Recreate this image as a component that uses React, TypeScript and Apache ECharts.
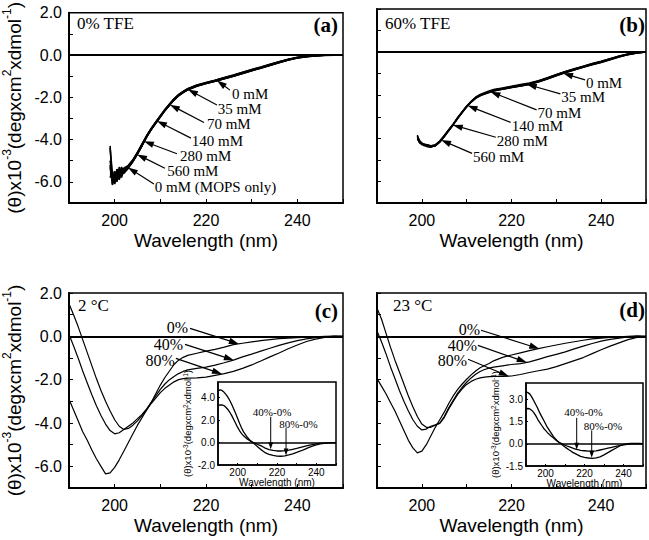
import React, { useEffect, useRef } from 'react';
import * as echarts from 'echarts';

const SANS = '"Liberation Sans", Arial, sans-serif';
const SERIF = '"Liberation Serif", "Times New Roman", serif';

// ---------- Panel (a): 0% TFE ----------
const WL_A = [199, 199.5, 200, 200.5, 201, 201.5, 202, 203, 204, 205, 206, 207, 208, 209, 210, 211, 212, 213, 214, 215, 216, 218, 220, 222, 224, 226, 228, 230, 232, 234, 236, 238, 240, 242, 244, 246, 248, 250];
const A_0MM = [-4.4, -5.6, -6.0, -5.5, -5.7, -5.3, -5.5, -5.3, -5.02, -4.66, -4.27, -3.86, -3.52, -3.21, -2.9, -2.61, -2.36, -2.1, -1.9, -1.76, -1.63, -1.45, -1.33, -1.22, -1.1, -0.98, -0.85, -0.72, -0.6, -0.47, -0.34, -0.22, -0.13, -0.07, -0.03, -0.01, 0, 0];
const A_35MM = [-5.0, -5.8, -5.6, -6.0, -5.4, -5.7, -5.4, -5.25, -4.97, -4.62, -4.22, -3.83, -3.49, -3.18, -2.88, -2.59, -2.33, -2.08, -1.88, -1.73, -1.6, -1.43, -1.31, -1.2, -1.08, -0.96, -0.83, -0.7, -0.58, -0.45, -0.32, -0.21, -0.12, -0.06, -0.02, 0, 0, 0];
const A_70MM = [-5.3, -6.1, -5.8, -5.6, -5.9, -5.5, -5.6, -5.35, -5.04, -4.68, -4.28, -3.88, -3.53, -3.23, -2.93, -2.63, -2.38, -2.13, -1.93, -1.78, -1.65, -1.48, -1.35, -1.24, -1.12, -1.0, -0.87, -0.74, -0.62, -0.49, -0.36, -0.24, -0.14, -0.08, -0.04, -0.02, -0.01, 0];
const A_140MM = [-5.6, -5.7, -6.1, -5.8, -5.5, -5.8, -5.45, -5.28, -4.99, -4.63, -4.24, -3.84, -3.5, -3.19, -2.89, -2.6, -2.34, -2.09, -1.89, -1.74, -1.61, -1.44, -1.32, -1.21, -1.09, -0.97, -0.84, -0.71, -0.59, -0.46, -0.33, -0.21, -0.12, -0.06, -0.02, 0, 0.01, 0];
const A_280MM = [-5.2, -5.9, -5.5, -5.7, -5.8, -5.4, -5.5, -5.32, -5.01, -4.66, -4.26, -3.86, -3.51, -3.2, -2.91, -2.62, -2.36, -2.11, -1.91, -1.76, -1.63, -1.46, -1.34, -1.23, -1.11, -0.99, -0.86, -0.73, -0.61, -0.48, -0.35, -0.23, -0.14, -0.08, -0.03, -0.01, 0, 0];
const A_560MM = [-5.8, -5.5, -5.9, -5.4, -5.6, -5.5, -5.35, -5.22, -4.95, -4.6, -4.2, -3.82, -3.47, -3.17, -2.87, -2.58, -2.32, -2.07, -1.87, -1.72, -1.59, -1.42, -1.3, -1.19, -1.07, -0.95, -0.82, -0.69, -0.57, -0.44, -0.32, -0.2, -0.11, -0.06, -0.02, 0, 0, 0];
const A_MOPS = [-4.3, -6.15, -5.7, -5.9, -5.3, -5.6, -5.4, -5.3, -5.03, -4.67, -4.28, -3.87, -3.52, -3.22, -2.92, -2.62, -2.37, -2.12, -1.92, -1.77, -1.64, -1.47, -1.35, -1.24, -1.12, -1.0, -0.87, -0.74, -0.61, -0.48, -0.35, -0.23, -0.13, -0.07, -0.03, -0.01, 0, 0];

// ---------- Panel (b): 60% TFE ----------
const WL_B = [199, 199.5, 200, 200.5, 201, 202, 203, 204, 205, 206, 207, 208, 209, 210, 211, 212, 213, 214, 215, 216, 218, 220, 222, 224, 226, 228, 230, 232, 234, 236, 238, 240, 242, 244, 246, 248, 250];
const B_0MM = [-3.9, -4.1, -4.22, -4.3, -4.28, -4.35, -4.3, -4.13, -3.88, -3.6, -3.33, -3.03, -2.76, -2.5, -2.28, -2.1, -1.98, -1.9, -1.83, -1.76, -1.68, -1.6, -1.53, -1.45, -1.34, -1.2, -1.05, -0.91, -0.78, -0.66, -0.54, -0.43, -0.31, -0.19, -0.09, -0.02, 0];
const B_35MM = [-4.0, -4.2, -4.28, -4.32, -4.35, -4.4, -4.35, -4.17, -3.92, -3.64, -3.37, -3.07, -2.8, -2.54, -2.32, -2.14, -2.02, -1.94, -1.87, -1.8, -1.72, -1.64, -1.57, -1.49, -1.38, -1.24, -1.09, -0.95, -0.82, -0.7, -0.58, -0.47, -0.35, -0.22, -0.11, -0.04, 0];
const B_70MM = [-3.85, -4.15, -4.3, -4.25, -4.38, -4.42, -4.3, -4.12, -3.87, -3.6, -3.34, -3.04, -2.77, -2.51, -2.29, -2.09, -1.96, -1.88, -1.8, -1.73, -1.66, -1.58, -1.5, -1.43, -1.32, -1.18, -1.04, -0.9, -0.77, -0.65, -0.53, -0.42, -0.3, -0.18, -0.08, -0.02, 0];
const B_140MM = [-4.05, -4.18, -4.2, -4.35, -4.32, -4.36, -4.36, -4.18, -3.93, -3.65, -3.38, -3.08, -2.8, -2.55, -2.33, -2.15, -2.03, -1.95, -1.88, -1.81, -1.73, -1.65, -1.58, -1.5, -1.39, -1.25, -1.1, -0.96, -0.83, -0.71, -0.59, -0.48, -0.36, -0.23, -0.12, -0.04, 0];
const B_280MM = [-3.95, -4.12, -4.27, -4.28, -4.3, -4.34, -4.32, -4.15, -3.9, -3.62, -3.35, -3.05, -2.78, -2.52, -2.3, -2.11, -1.99, -1.91, -1.84, -1.77, -1.69, -1.61, -1.54, -1.46, -1.35, -1.21, -1.06, -0.92, -0.79, -0.67, -0.55, -0.44, -0.32, -0.2, -0.1, -0.03, 0];
const B_560MM = [-3.9, -4.22, -4.24, -4.33, -4.29, -4.39, -4.34, -4.16, -3.91, -3.63, -3.36, -3.06, -2.79, -2.53, -2.31, -2.13, -2.01, -1.93, -1.86, -1.79, -1.71, -1.63, -1.56, -1.48, -1.37, -1.23, -1.08, -0.94, -0.81, -0.69, -0.57, -0.46, -0.34, -0.21, -0.11, -0.03, 0];

// ---------- Panels (c) 2 °C and (d) 23 °C ----------
const WL_CD = [190, 191, 192, 193, 194, 195, 196, 197, 198, 199, 200, 201, 202, 203, 204, 205, 206, 207, 208, 209, 210, 211, 212, 213, 214, 215, 216, 218, 220, 222, 224, 226, 228, 230, 232, 234, 236, 238, 240, 242, 244, 246, 248, 250];
const C_0 = [-2.9, -3.4, -3.9, -4.4, -4.8, -5.25, -5.65, -6.0, -6.35, -6.3, -6.05, -5.7, -5.3, -4.9, -4.5, -4.1, -3.75, -3.4, -3.05, -2.65, -2.25, -1.9, -1.6, -1.3, -1.1, -0.97, -0.88, -0.78, -0.68, -0.6, -0.5, -0.38, -0.32, -0.26, -0.2, -0.15, -0.11, -0.08, -0.06, -0.04, -0.02, 0, 0.01, 0];
const C_40 = [0.1, -0.45, -1.0, -1.6, -2.15, -2.7, -3.2, -3.65, -4.05, -4.35, -4.5, -4.45, -4.3, -4.15, -4.0, -3.8, -3.6, -3.35, -3.05, -2.75, -2.45, -2.2, -2.0, -1.85, -1.72, -1.62, -1.55, -1.48, -1.42, -1.33, -1.22, -1.1, -0.95, -0.82, -0.68, -0.55, -0.42, -0.3, -0.2, -0.12, -0.06, -0.02, 0, 0];
const C_80 = [1.5, 1.0, 0.45, -0.15, -0.75, -1.35, -1.95, -2.5, -3.0, -3.45, -3.85, -4.15, -4.3, -4.25, -4.1, -3.9, -3.65, -3.4, -3.1, -2.85, -2.6, -2.4, -2.25, -2.1, -2.0, -1.95, -1.93, -1.92, -1.88, -1.8, -1.72, -1.62, -1.48, -1.32, -1.14, -0.95, -0.77, -0.57, -0.4, -0.24, -0.13, -0.05, 0, 0];
const D_0 = [-1.95, -2.3, -2.65, -3.05, -3.45, -3.9, -4.35, -4.8, -5.15, -5.38, -5.3, -5.0, -4.6, -4.2, -3.85, -3.5, -3.1, -2.75, -2.45, -2.2, -1.98, -1.78, -1.6, -1.45, -1.35, -1.25, -1.13, -0.97, -0.86, -0.76, -0.66, -0.57, -0.48, -0.4, -0.32, -0.25, -0.18, -0.12, -0.08, -0.05, -0.02, 0, 0.02, 0];
const D_40 = [0.25, -0.25, -0.8, -1.4, -1.95, -2.5, -3.0, -3.45, -3.85, -4.15, -4.32, -4.28, -4.15, -4.08, -4.0, -3.7, -3.3, -2.95, -2.62, -2.35, -2.12, -1.92, -1.75, -1.62, -1.53, -1.47, -1.42, -1.36, -1.3, -1.26, -1.18, -1.06, -0.94, -0.83, -0.72, -0.58, -0.45, -0.33, -0.22, -0.14, -0.08, -0.03, 0, 0];
const D_80 = [1.3, 0.8, 0.15, -0.5, -1.1, -1.65, -2.2, -2.75, -3.25, -3.7, -4.05, -4.2, -4.2, -4.1, -4.02, -3.75, -3.35, -3.0, -2.68, -2.42, -2.22, -2.08, -1.98, -1.92, -1.88, -1.86, -1.85, -1.85, -1.83, -1.76, -1.67, -1.59, -1.51, -1.4, -1.26, -1.12, -0.98, -0.8, -0.62, -0.45, -0.3, -0.15, -0.05, 0];

// ---------- Insets: difference spectra ----------
const CI_80_0 = [4.6, 4.7, 4.65, 4.5, 4.3, 4.05, 3.75, 3.4, 3.0, 2.6, 2.15, 1.7, 1.3, 0.95, 0.7, 0.45, 0.25, 0.1, -0.05, -0.2, -0.35, -0.5, -0.65, -0.78, -0.9, -0.98, -1.05, -1.15, -1.2, -1.22, -1.18, -1.1, -1.0, -0.88, -0.75, -0.6, -0.45, -0.32, -0.2, -0.12, -0.06, -0.03, 0, 0];
const CI_40_0 = [3.3, 3.35, 3.35, 3.3, 3.15, 2.95, 2.7, 2.4, 2.05, 1.7, 1.35, 1.05, 0.8, 0.6, 0.45, 0.3, 0.18, 0.08, 0, -0.08, -0.15, -0.22, -0.3, -0.4, -0.5, -0.56, -0.62, -0.7, -0.75, -0.75, -0.72, -0.68, -0.6, -0.52, -0.42, -0.33, -0.25, -0.18, -0.12, -0.08, -0.05, -0.02, 0, 0];
const DI_80_0 = [3.5, 3.45, 3.35, 3.15, 2.9, 2.65, 2.4, 2.1, 1.85, 1.6, 1.35, 1.1, 0.9, 0.7, 0.5, 0.35, 0.2, 0.08, -0.02, -0.12, -0.22, -0.31, -0.4, -0.49, -0.58, -0.65, -0.72, -0.85, -0.92, -0.96, -0.98, -0.95, -0.88, -0.75, -0.6, -0.45, -0.3, -0.15, -0.05, 0, 0.02, 0, 0.02, 0];
const DI_40_0 = [2.35, 2.38, 2.35, 2.25, 2.1, 1.9, 1.65, 1.45, 1.25, 1.05, 0.9, 0.75, 0.62, 0.5, 0.4, 0.28, 0.18, 0.1, 0.03, -0.04, -0.1, -0.15, -0.2, -0.25, -0.3, -0.34, -0.38, -0.44, -0.47, -0.5, -0.5, -0.48, -0.42, -0.36, -0.3, -0.24, -0.18, -0.12, -0.08, -0.04, 0, 0.02, 0, 0];

// ---------- Annotations (data coordinates): text, textX, textY, tailX, tailY, tipX, tipY ----------
const ANN_A: [string, number, number, number, number, number, number][] = [
  ['0 mM', 225.7, -1.85, 225.25, -1.66, 222.4, -1.2],
  ['35 mM', 222.6, -2.54, 222.4, -2.36, 216.06, -1.63],
  ['70 mM', 220.2, -3.28, 219.56, -3.19, 212.1, -2.35],
  ['140 mM', 216.9, -4.06, 216.7, -3.93, 209.27, -3.12],
  ['280 mM', 214.3, -4.76, 213.65, -4.67, 206.4, -4.08],
  ['560 mM', 211.5, -5.5, 211.0, -5.36, 204.9, -4.7],
  ['0 mM (MOPS only)', 208.8, -6.24, 208.6, -6.1, 202.9, -5.32],
];
const ANN_B: [string, number, number, number, number, number, number][] = [
  ['0 mM', 236.6, -1.43, 236.4, -1.29, 231.5, -0.98],
  ['35 mM', 231.1, -2.08, 230.9, -1.94, 223.4, -1.49],
  ['70 mM', 225.8, -2.82, 225.6, -2.68, 215.3, -1.84],
  ['140 mM', 220.05, -3.44, 219.8, -3.26, 210.2, -2.48],
  ['280 mM', 216.7, -4.14, 216.5, -3.95, 206.9, -3.38],
  ['560 mM', 211.4, -4.86, 211.2, -4.7, 204.3, -4.08],
];
const ANN_C: [string, number, number, number, number, number, number][] = [
  ['0%', 216.1, 0.42, 216.5, 0.37, 227.2, -0.35],
  ['40%', 215.0, -0.37, 215.4, -0.37, 226.1, -1.1],
  ['80%', 213.2, -1.11, 213.4, -1.02, 223.5, -1.74],
];
const ANN_D: [string, number, number, number, number, number, number][] = [
  ['0%', 213.0, 0.32, 213.2, 0.28, 226.2, -0.57],
  ['40%', 212.3, -0.42, 212.5, -0.42, 223.4, -1.2],
  ['80%', 210.1, -1.11, 210.3, -1.06, 219.4, -1.84],
];
const ANN_CI: [string, number, number, number, number, number, number][] = [
  ['40%-0%', 217.5, 2.69, 216.8, 2.3, 216.8, -0.6],
  ['80%-0%', 230.9, 1.7, 224.6, 1.3, 224.6, -1.15],
];
const ANN_DI: [string, number, number, number, number, number, number][] = [
  ['40%-0%', 219.5, 2.11, 216.0, 1.75, 216.0, -0.4],
  ['80%-0%', 229.5, 1.23, 223.7, 0.9, 223.7, -0.95],
];

const Y_TITLE = '(θ)x10{s|-3}(degxcm{s|2}xdmol{s|-1})';

const xFmt = (v: number) => (v % 20 === 0 && v > 190 && v < 250 ? String(v) : '');
const yFmt = (v: number) => (Math.abs(Math.round(v) % 2) === 0 ? v.toFixed(1) : '');

function mainX(g: number) {
  return {
    type: 'value', gridIndex: g, min: 190, max: 250, interval: 10,
    axisLine: { show: true, onZero: false, lineStyle: { color: '#000', width: 2 } },
    axisTick: { show: true, inside: true, length: 4, lineStyle: { color: '#000', width: 1 } },
    axisLabel: { show: true, margin: 9, fontSize: 16, fontFamily: SANS, color: '#000', formatter: xFmt },
    splitLine: { show: false },
    name: 'Wavelength (nm)', nameLocation: 'middle', nameGap: 28,
    nameTextStyle: { fontSize: 19, fontFamily: SANS, color: '#000' },
  };
}
function mainY(g: number, labels: boolean) {
  return {
    type: 'value', gridIndex: g, min: -7, max: 2, interval: 1,
    axisLine: { show: true, onZero: false, lineStyle: { color: '#000', width: 2 } },
    axisTick: { show: true, inside: true, length: 4, lineStyle: { color: '#000', width: 1 } },
    axisLabel: { show: labels, margin: 7, fontSize: 16, fontFamily: SANS, color: '#000', formatter: yFmt },
    splitLine: { show: false },
    name: labels ? Y_TITLE : '', nameLocation: 'middle', nameGap: 42, nameRotate: 90,
    nameTextStyle: {
      fontSize: 19, fontFamily: SANS, color: '#000', lineHeight: 26,
      rich: { s: { fontSize: 12, fontFamily: SANS, color: '#000', verticalAlign: 'top', lineHeight: 14 } },
    },
  };
}
function insetX(g: number) {
  return {
    type: 'value', gridIndex: g, min: 190, max: 250, interval: 10, z: 6,
    axisLine: { show: true, onZero: false, lineStyle: { color: '#000', width: 1.5 } },
    axisTick: { show: true, inside: true, length: 2, lineStyle: { color: '#000', width: 1 } },
    axisLabel: { show: true, margin: 2, fontSize: 10, fontFamily: SANS, color: '#000', formatter: xFmt },
    splitLine: { show: false },
    name: 'Wavelength (nm)', nameLocation: 'middle', nameGap: 9,
    nameTextStyle: { fontSize: 10, fontFamily: SANS, color: '#000' },
  };
}
function insetY(g: number, min: number, max: number, interval: number) {
  return {
    type: 'value', gridIndex: g, min, max, interval, z: 6,
    axisLine: { show: true, onZero: false, lineStyle: { color: '#000', width: 1.5 } },
    axisTick: { show: true, inside: true, length: 2, lineStyle: { color: '#000', width: 1 } },
    axisLabel: { show: true, margin: 3, fontSize: 10, fontFamily: SANS, color: '#000', showMaxLabel: false, formatter: (v: number) => v.toFixed(1) },
    splitLine: { show: false },
    name: Y_TITLE, nameLocation: 'middle', nameGap: 20, nameRotate: 90,
    nameTextStyle: {
      fontSize: 9.5, fontFamily: SANS, color: '#000', lineHeight: 12,
      rich: { s: { fontSize: 6.5, fontFamily: SANS, color: '#000', verticalAlign: 'top', lineHeight: 7 } },
    },
  };
}

const zeroLine = (width: number) => ({
  silent: true, symbol: ['none', 'none'], label: { show: false },
  lineStyle: { color: '#000', width, type: 'solid' },
  data: [{ yAxis: 0 }],
});

function line(name: string, idx: number, wl: number[], vals: number[], width: number, z: number, zero?: number) {
  const s: any = {
    type: 'line', name, xAxisIndex: idx, yAxisIndex: idx,
    data: wl.map((w, i) => [w, vals[i]]),
    showSymbol: false, symbol: 'none', silent: true, z,
    lineStyle: { color: '#000', width }, itemStyle: { color: '#000' },
  };
  if (zero) s.markLine = zeroLine(zero);
  return s;
}

function arrowEls(p0: number[], p1: number[], len: number, hw: number, lw: number) {
  const dx = p1[0] - p0[0], dy = p1[1] - p0[1];
  const d = Math.sqrt(dx * dx + dy * dy) || 1;
  const ux = dx / d, uy = dy / d;
  const bx = p1[0] - ux * len, by = p1[1] - uy * len;
  return [
    { type: 'line', z: 100, shape: { x1: p0[0], y1: p0[1], x2: bx + ux * 1, y2: by + uy * 1 }, style: { stroke: '#000', lineWidth: lw } },
    { type: 'polygon', z: 100, shape: { points: [[p1[0], p1[1]], [bx - uy * hw, by + ux * hw], [bx + uy * hw, by - ux * hw]] }, style: { fill: '#000' } },
  ];
}

function buildGraphics(chart: any) {
  const els: any[] = [];
  const px = (g: number, x: number, y: number) => chart.convertToPixel({ gridIndex: g }, [x, y]);
  const add = (g: number, anns: [string, number, number, number, number, number, number][], align: string, fontSize: number, head: number[]) => {
    anns.forEach(([t, tx, ty, x0, y0, x1, y1]) => {
      const tp = px(g, tx, ty);
      els.push({
        type: 'text', z: 100, x: tp[0], y: tp[1],
        style: { text: t, fontSize, fontFamily: SERIF, fill: '#000', textAlign: align, textVerticalAlign: 'middle', align, verticalAlign: 'middle' },
      });
      els.push(...arrowEls(px(g, x0, y0), px(g, x1, y1), head[0], head[1], head[2]));
    });
  };
  add(0, ANN_A, 'left', 15, [10, 3.2, 1.2]);
  add(1, ANN_B, 'left', 15, [10, 3.2, 1.2]);
  add(2, ANN_C, 'right', 16, [10, 3.2, 1.2]);
  add(3, ANN_D, 'right', 16, [10, 3.2, 1.2]);
  add(4, ANN_CI, 'center', 11, [7, 2.4, 1]);
  add(5, ANN_DI, 'center', 11, [7, 2.4, 1]);

  const panelText = (t: string, x: number, y: number, align: string, size: number, bold: boolean) => ({
    type: 'text', z: 100, x, y,
    style: { text: t, fontSize: size, fontFamily: SERIF, fontWeight: bold ? 'bold' : 'normal', fill: '#000', textAlign: align, textVerticalAlign: 'middle', align, verticalAlign: 'middle' },
  });
  els.push(panelText('0% TFE', 77, 23, 'left', 17, false));
  els.push(panelText('(a)', 338, 25, 'right', 21, true));
  els.push(panelText('60% TFE', 385, 23, 'left', 17, false));
  els.push(panelText('(b)', 645, 25, 'right', 21, true));
  els.push(panelText('2 °C', 78, 305, 'left', 17, false));
  els.push(panelText('(c)', 338, 311, 'right', 21, true));
  els.push(panelText('23 °C', 393, 305, 'left', 17, false));
  els.push(panelText('(d)', 645, 310, 'right', 21, true));
  return els;
}

export default function App() {
  const ref = useRef<HTMLDivElement>(null);
  useEffect(() => {
    if (!ref.current) return;
    const chart = echarts.init(ref.current, null, { renderer: 'svg' });
    const gridBase = { show: true, borderColor: '#000', borderWidth: 1.5, backgroundColor: '#fff', containLabel: false };
    const option: any = {
      animation: false,
      backgroundColor: '#fff',
      grid: [
        { ...gridBase, left: 69, top: 9, width: 274, height: 194 },
        { ...gridBase, left: 377, top: 9, width: 271, height: 194 },
        { ...gridBase, left: 69, top: 293, width: 274, height: 195 },
        { ...gridBase, left: 377, top: 293, width: 271, height: 195 },
        { ...gridBase, left: 218, top: 382, width: 118, height: 83, z: 5 },
        { ...gridBase, left: 526, top: 383, width: 117, height: 83, z: 5 },
      ],
      xAxis: [mainX(0), mainX(1), mainX(2), mainX(3), insetX(4), insetX(5)],
      yAxis: [mainY(0, true), mainY(1, false), mainY(2, true), mainY(3, false), insetY(4, -2, 5.4, 2), insetY(5, -1.5, 4.1, 1.5)],
      series: [
        line('0 mM', 0, WL_A, A_0MM, 1.6, 2, 2),
        line('35 mM', 0, WL_A, A_35MM, 1.6, 2),
        line('70 mM', 0, WL_A, A_70MM, 1.6, 2),
        line('140 mM', 0, WL_A, A_140MM, 1.6, 2),
        line('280 mM', 0, WL_A, A_280MM, 1.6, 2),
        line('560 mM', 0, WL_A, A_560MM, 1.6, 2),
        line('0 mM (MOPS only)', 0, WL_A, A_MOPS, 1.6, 2),
        line('0 mM', 1, WL_B, B_0MM, 1.4, 2, 2),
        line('35 mM', 1, WL_B, B_35MM, 1.4, 2),
        line('70 mM', 1, WL_B, B_70MM, 1.4, 2),
        line('140 mM', 1, WL_B, B_140MM, 1.4, 2),
        line('280 mM', 1, WL_B, B_280MM, 1.4, 2),
        line('560 mM', 1, WL_B, B_560MM, 1.4, 2),
        line('0%', 2, WL_CD, C_0, 1.2, 2, 2),
        line('40%', 2, WL_CD, C_40, 1.2, 2),
        line('80%', 2, WL_CD, C_80, 1.2, 2),
        line('0%', 3, WL_CD, D_0, 1.2, 2, 2),
        line('40%', 3, WL_CD, D_40, 1.2, 2),
        line('80%', 3, WL_CD, D_80, 1.2, 2),
        line('80%-0%', 4, WL_CD, CI_80_0, 1.3, 7, 1.5),
        line('40%-0%', 4, WL_CD, CI_40_0, 1.3, 7),
        line('80%-0%', 5, WL_CD, DI_80_0, 1.3, 7, 1.5),
        line('40%-0%', 5, WL_CD, DI_40_0, 1.3, 7),
      ],
    };
    chart.setOption(option);
    chart.setOption({ graphic: buildGraphics(chart) });
    return () => chart.dispose();
  }, []);
  return <div ref={ref} style={{ position: 'absolute', left: 0, top: 0, width: 649, height: 540, background: '#fff' }} />;
}
